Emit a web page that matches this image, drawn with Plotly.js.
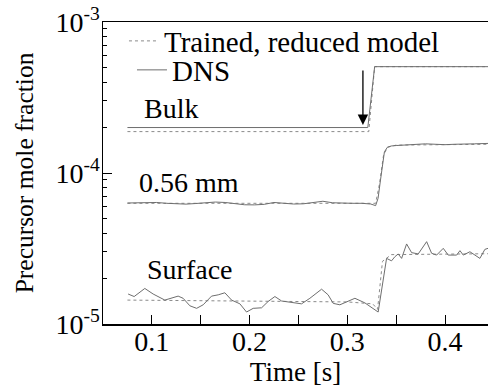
<!DOCTYPE html>
<html>
<head>
<meta charset="utf-8">
<script src="https://cdn.plot.ly/plotly-3.0.1.min.js"></script>
<style>html,body{margin:0;padding:0;background:#fff;}#chart{width:488px;height:389px;}</style>
</head>
<body>
<div id="chart"></div>
<script>
// ---- data ----
const bulkDnsX = [0.075, 0.321, 0.328, 0.444];
const bulkDnsY = [2.0e-4, 2.0e-4, 5.06e-4, 5.06e-4];
const bulkModelX = [0.075, 0.322, 0.328, 0.444];
const bulkModelY = [1.88e-4, 1.88e-4, 5.06e-4, 5.06e-4];

const midDnsX = [0.075, 0.085, 0.095, 0.105, 0.115, 0.125, 0.135, 0.145, 0.155, 0.165, 0.175, 0.185, 0.195, 0.205, 0.215, 0.225, 0.235, 0.245, 0.255, 0.265, 0.275, 0.285, 0.295, 0.305, 0.315, 0.324, 0.329, 0.3315, 0.334, 0.336, 0.338, 0.341, 0.345, 0.35, 0.36, 0.37, 0.38, 0.39, 0.40, 0.41, 0.42, 0.43, 0.444];
const midDnsY = [6.33e-5, 6.35e-5, 6.4e-5, 6.38e-5, 6.3e-5, 6.25e-5, 6.22e-5, 6.28e-5, 6.35e-5, 6.42e-5, 6.38e-5, 6.28e-5, 6.16e-5, 6.15e-5, 6.2e-5, 6.38e-5, 6.3e-5, 6.23e-5, 6.25e-5, 6.35e-5, 6.5e-5, 6.35e-5, 6.3e-5, 6.3e-5, 6.3e-5, 6.23e-5, 6.08e-5, 6.8e-5, 9.0e-5, 1.15e-4, 1.38e-4, 1.48e-4, 1.51e-4, 1.52e-4, 1.53e-4, 1.54e-4, 1.56e-4, 1.55e-4, 1.54e-4, 1.55e-4, 1.55e-4, 1.56e-4, 1.57e-4];
const midModelX = [0.075, 0.329, 0.333, 0.337, 0.341, 0.35, 0.444];
const midModelY = [6.3e-5, 6.3e-5, 8.5e-5, 1.3e-4, 1.48e-4, 1.53e-4, 1.55e-4];

const surfDnsX = [0.0757, 0.0819, 0.0928, 0.1013, 0.1133, 0.1269, 0.132, 0.1389, 0.1458, 0.1525, 0.1611, 0.1679, 0.1747, 0.1816, 0.1901, 0.1969, 0.2037, 0.2123, 0.219, 0.2259, 0.2328, 0.2446, 0.2532, 0.2617, 0.2737, 0.2804, 0.2856, 0.2924, 0.3078, 0.318, 0.3265, 0.3316, 0.3402, 0.3453, 0.3487, 0.3521, 0.3556, 0.3607, 0.3658, 0.3726, 0.3812, 0.3863, 0.3914, 0.3982, 0.4033, 0.4119, 0.4153, 0.4187, 0.4255, 0.4306, 0.4357, 0.4408, 0.444];
const surfDnsY = [1.58e-5, 1.52e-5, 1.72e-5, 1.58e-5, 1.44e-5, 1.53e-5, 1.48e-5, 1.32e-5, 1.27e-5, 1.34e-5, 1.53e-5, 1.56e-5, 1.61e-5, 1.44e-5, 1.36e-5, 1.20e-5, 1.27e-5, 1.28e-5, 1.41e-5, 1.52e-5, 1.42e-5, 1.39e-5, 1.36e-5, 1.48e-5, 1.70e-5, 1.56e-5, 1.37e-5, 1.34e-5, 1.48e-5, 1.38e-5, 1.27e-5, 1.20e-5, 2.72e-5, 2.62e-5, 2.79e-5, 2.91e-5, 2.72e-5, 3.39e-5, 2.97e-5, 2.91e-5, 3.51e-5, 2.94e-5, 2.86e-5, 3.17e-5, 2.86e-5, 2.86e-5, 3.06e-5, 2.86e-5, 3.01e-5, 2.86e-5, 2.72e-5, 3.12e-5, 3.17e-5];
const surfModelX = [0.075, 0.2, 0.3, 0.326, 0.331, 0.336, 0.345, 0.444];
const surfModelY = [1.44e-5, 1.42e-5, 1.4e-5, 1.36e-5, 1.25e-5, 2.6e-5, 2.88e-5, 2.92e-5];

const seriesLabels = ["Bulk", "0.56 mm", "Surface"];
const labelX = [0.0898, 0.0846, 0.0928];
const labelY = [2.69e-4, 8.7e-5, 2.28e-5];
const legendNames = ["Trained, reduced model", "DNS"];
const yTickVals = [1e-5, 1e-4, 1e-3];
const yTickText = ["10<sup>-5</sup>", "10<sup>-4</sup>", "10<sup>-3</sup>"];
const yMinorVals = [2e-5, 3e-5, 4e-5, 5e-5, 6e-5, 7e-5, 8e-5, 9e-5, 2e-4, 3e-4, 4e-4, 5e-4, 6e-4, 7e-4, 8e-4, 9e-4];
const arrowX = 0.316;
const arrowY = 2.08e-4;

const FONT = "Liberation Serif, Times New Roman, serif";
const dnsLine = {color: "#6e6e6e", width: 1};
const modelLine = {color: "#8a8a8a", width: 1, dash: "dot"};

const traces = [
  {x: bulkModelX, y: bulkModelY, mode: "lines", line: modelLine, name: legendNames[0], showlegend: true, legend: "legend"},
  {x: bulkDnsX, y: bulkDnsY, mode: "lines", line: dnsLine, name: legendNames[1], showlegend: true, legend: "legend2"},
  {x: midModelX, y: midModelY, mode: "lines", line: modelLine, showlegend: false},
  {x: midDnsX, y: midDnsY, mode: "lines", line: dnsLine, showlegend: false},
  {x: surfModelX, y: surfModelY, mode: "lines", line: modelLine, showlegend: false},
  {x: surfDnsX, y: surfDnsY, mode: "lines", line: dnsLine, showlegend: false}
];

const annotations = seriesLabels.map((t, i) => ({
  x: labelX[i], y: Math.log10(labelY[i]), xref: "x", yref: "y",
  text: t, showarrow: false, xanchor: "left", yanchor: "middle",
  font: {family: FONT, size: 28, color: "#000"}
}));
annotations.push({
  x: arrowX, y: Math.log10(arrowY), xref: "x", yref: "y",
  showarrow: true, arrowhead: 2, arrowsize: 1.6, arrowwidth: 1.3, arrowcolor: "#000",
  ax: 0, ay: -56, text: ""
});

const legFont = {family: FONT, size: 29, color: "#000"};
const layout = {
  width: 488, height: 389,
  margin: {l: 103, r: 0, t: 22, b: 65},
  paper_bgcolor: "#fff", plot_bgcolor: "#fff",
  font: {family: FONT, color: "#000", size: 24},
  showlegend: true,
  legend: {x: 0.0545, y: 0.937, xanchor: "left", yanchor: "middle", bgcolor: "rgba(0,0,0,0)",
           font: legFont, itemwidth: 30},
  legend2: {x: 0.0753, y: 0.841, xanchor: "left", yanchor: "middle", bgcolor: "rgba(0,0,0,0)",
           font: legFont, itemwidth: 30},
  xaxis: {
    range: [0.05, 0.444], dtick: 0.1, tick0: 0, ticks: "inside", ticklen: 9, tickwidth: 1,
    tickcolor: "#000", showline: true, linecolor: "#000", linewidth: 1.5, mirror: true,
    showgrid: false, zeroline: false, tickformat: ".1f", ticklabelstandoff: -8,
    minor: {dtick: 0.05, ticks: "inside", ticklen: 9, tickcolor: "#000", tickwidth: 1, showgrid: false},
    tickfont: {family: FONT, size: 28, color: "#000"},
    title: {text: "Time [s]", font: {family: FONT, size: 27, color: "#000"}, standoff: 0}
  },
  yaxis: {
    type: "log", range: [-5, -3], tickvals: yTickVals, ticktext: yTickText,
    ticks: "inside", ticklen: 9, tickwidth: 1, tickcolor: "#000",
    showline: true, linecolor: "#000", linewidth: 1.5, mirror: false, ticklabelstandoff: -4,
    showgrid: false, zeroline: false,
    minor: {tickvals: yMinorVals, ticks: "inside", ticklen: 4, tickcolor: "#000", tickwidth: 1, showgrid: false},
    tickfont: {family: FONT, size: 28, color: "#000"},
    title: {text: "Precursor mole fraction", font: {family: FONT, size: 25.5, color: "#000"}, standoff: 14}
  },
  annotations: annotations
};

Plotly.newPlot("chart", traces, layout, {staticPlot: true, displayModeBar: false});
</script>
</body>
</html>
